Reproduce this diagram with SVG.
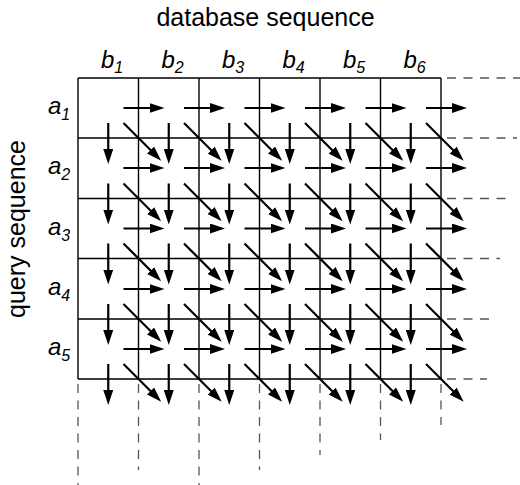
<svg xmlns="http://www.w3.org/2000/svg" xmlns:xlink="http://www.w3.org/1999/xlink" width="520" height="485" viewBox="0 0 520 485">
<style>
text{font-family:"Liberation Sans",Arial,sans-serif;fill:#000}
.title{font-size:25px}
.lab{font-size:24px;font-style:italic}
.sub{font-size:16px}
.grid{stroke:#000;stroke-width:1.4;fill:none}
.dash{stroke:#555;stroke-width:1.3;fill:none;stroke-dasharray:9 7.5}
.arr{stroke:#000;stroke-width:2.2;fill:none;marker-end:url(#ah)}
</style>
<defs>
<marker id="ah" markerUnits="userSpaceOnUse" markerWidth="15" markerHeight="10" refX="7" refY="5" orient="auto">
<path d="M0,0 L15,5 L0,10 z" fill="#000"/>
</marker>
<path id="h" class="arr" d="M-15,0 H18"/>
<path id="v" class="arr" d="M0,-15 V18"/>
<path id="d" class="arr" d="M-15,-15 L17,17"/>
</defs>

<g id="title-db"><text class="title" x="265.5" y="26" text-anchor="middle">database sequence</text></g>
<g id="title-query"><text class="title" transform="translate(25,229) rotate(-90)" text-anchor="middle">query sequence</text></g>

<g id="labels-b">
<text class="lab" x="101" y="68">b<tspan class="sub" dy="5">1</tspan></text>
<text class="lab" x="161.5" y="68">b<tspan class="sub" dy="5">2</tspan></text>
<text class="lab" x="222" y="68">b<tspan class="sub" dy="5">3</tspan></text>
<text class="lab" x="282.5" y="68">b<tspan class="sub" dy="5">4</tspan></text>
<text class="lab" x="343" y="68">b<tspan class="sub" dy="5">5</tspan></text>
<text class="lab" x="403.5" y="68">b<tspan class="sub" dy="5">6</tspan></text>
</g>
<g id="labels-a">
<text class="lab" x="48" y="114">a<tspan class="sub" dy="6">1</tspan></text>
<text class="lab" x="48" y="174">a<tspan class="sub" dy="6">2</tspan></text>
<text class="lab" x="48" y="234.5">a<tspan class="sub" dy="6">3</tspan></text>
<text class="lab" x="48" y="295">a<tspan class="sub" dy="6">4</tspan></text>
<text class="lab" x="48" y="355">a<tspan class="sub" dy="6">5</tspan></text>
</g>

<g id="grid">
<path class="grid" d="M78,78 H441 M78,138 H441 M78,198.5 H441 M78,258.5 H441 M78,319 H441 M78,379 H441"/>
<path class="grid" d="M78,78 V379 M138.5,78 V379 M199,78 V379 M259.5,78 V379 M320,78 V379 M380.5,78 V379 M441,78 V379"/>
</g>

<g id="dashes">
<path class="dash" d="M447,78 H520 M447,138 H517 M447,198.5 H508 M447,258.5 H500 M447,319 H494 M447,379 H487"/>
<path class="dash" d="M78,384 V485 M138.5,384 V470 M199,384 V485 M259.5,384 V470 M320,384 V455 M380.5,384 V440 M441,384 V425"/>
</g>

<g id="connectors">
<g id="horizontal">
<use xlink:href="#h" x="138.5" y="108"/><use xlink:href="#h" x="199" y="108"/><use xlink:href="#h" x="259.5" y="108"/><use xlink:href="#h" x="320" y="108"/><use xlink:href="#h" x="380.5" y="108"/><use xlink:href="#h" x="441" y="108"/>
<use xlink:href="#h" x="138.5" y="168"/><use xlink:href="#h" x="199" y="168"/><use xlink:href="#h" x="259.5" y="168"/><use xlink:href="#h" x="320" y="168"/><use xlink:href="#h" x="380.5" y="168"/><use xlink:href="#h" x="441" y="168"/>
<use xlink:href="#h" x="138.5" y="228.5"/><use xlink:href="#h" x="199" y="228.5"/><use xlink:href="#h" x="259.5" y="228.5"/><use xlink:href="#h" x="320" y="228.5"/><use xlink:href="#h" x="380.5" y="228.5"/><use xlink:href="#h" x="441" y="228.5"/>
<use xlink:href="#h" x="138.5" y="289"/><use xlink:href="#h" x="199" y="289"/><use xlink:href="#h" x="259.5" y="289"/><use xlink:href="#h" x="320" y="289"/><use xlink:href="#h" x="380.5" y="289"/><use xlink:href="#h" x="441" y="289"/>
<use xlink:href="#h" x="138.5" y="349"/><use xlink:href="#h" x="199" y="349"/><use xlink:href="#h" x="259.5" y="349"/><use xlink:href="#h" x="320" y="349"/><use xlink:href="#h" x="380.5" y="349"/><use xlink:href="#h" x="441" y="349"/>
</g>
<g id="vertical">
<use xlink:href="#v" x="108.25" y="138"/><use xlink:href="#v" x="168.75" y="138"/><use xlink:href="#v" x="229.25" y="138"/><use xlink:href="#v" x="289.75" y="138"/><use xlink:href="#v" x="350.25" y="138"/><use xlink:href="#v" x="410.75" y="138"/>
<use xlink:href="#v" x="108.25" y="198.5"/><use xlink:href="#v" x="168.75" y="198.5"/><use xlink:href="#v" x="229.25" y="198.5"/><use xlink:href="#v" x="289.75" y="198.5"/><use xlink:href="#v" x="350.25" y="198.5"/><use xlink:href="#v" x="410.75" y="198.5"/>
<use xlink:href="#v" x="108.25" y="258.5"/><use xlink:href="#v" x="168.75" y="258.5"/><use xlink:href="#v" x="229.25" y="258.5"/><use xlink:href="#v" x="289.75" y="258.5"/><use xlink:href="#v" x="350.25" y="258.5"/><use xlink:href="#v" x="410.75" y="258.5"/>
<use xlink:href="#v" x="108.25" y="319"/><use xlink:href="#v" x="168.75" y="319"/><use xlink:href="#v" x="229.25" y="319"/><use xlink:href="#v" x="289.75" y="319"/><use xlink:href="#v" x="350.25" y="319"/><use xlink:href="#v" x="410.75" y="319"/>
<use xlink:href="#v" x="108.25" y="379"/><use xlink:href="#v" x="168.75" y="379"/><use xlink:href="#v" x="229.25" y="379"/><use xlink:href="#v" x="289.75" y="379"/><use xlink:href="#v" x="350.25" y="379"/><use xlink:href="#v" x="410.75" y="379"/>
</g>
<g id="diagonal">
<use xlink:href="#d" x="138.5" y="138"/><use xlink:href="#d" x="199" y="138"/><use xlink:href="#d" x="259.5" y="138"/><use xlink:href="#d" x="320" y="138"/><use xlink:href="#d" x="380.5" y="138"/><use xlink:href="#d" x="441" y="138"/>
<use xlink:href="#d" x="138.5" y="198.5"/><use xlink:href="#d" x="199" y="198.5"/><use xlink:href="#d" x="259.5" y="198.5"/><use xlink:href="#d" x="320" y="198.5"/><use xlink:href="#d" x="380.5" y="198.5"/><use xlink:href="#d" x="441" y="198.5"/>
<use xlink:href="#d" x="138.5" y="258.5"/><use xlink:href="#d" x="199" y="258.5"/><use xlink:href="#d" x="259.5" y="258.5"/><use xlink:href="#d" x="320" y="258.5"/><use xlink:href="#d" x="380.5" y="258.5"/><use xlink:href="#d" x="441" y="258.5"/>
<use xlink:href="#d" x="138.5" y="319"/><use xlink:href="#d" x="199" y="319"/><use xlink:href="#d" x="259.5" y="319"/><use xlink:href="#d" x="320" y="319"/><use xlink:href="#d" x="380.5" y="319"/><use xlink:href="#d" x="441" y="319"/>
<use xlink:href="#d" x="138.5" y="379"/><use xlink:href="#d" x="199" y="379"/><use xlink:href="#d" x="259.5" y="379"/><use xlink:href="#d" x="320" y="379"/><use xlink:href="#d" x="380.5" y="379"/><use xlink:href="#d" x="441" y="379"/>
</g>
</g>
</svg>
